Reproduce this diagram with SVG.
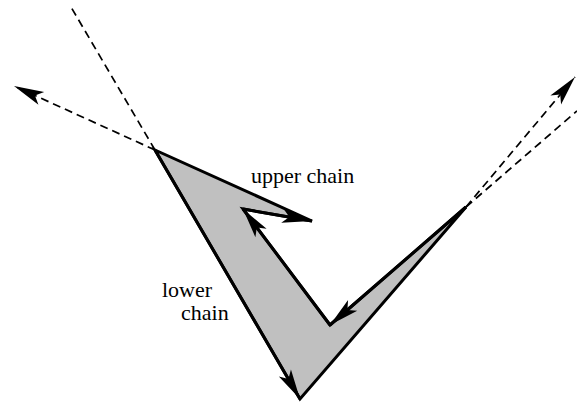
<svg xmlns="http://www.w3.org/2000/svg" width="577" height="402" viewBox="0 0 577 402">
<style>
.poly{fill:#c0c0c0;stroke:#000;stroke-width:3;stroke-linejoin:miter;stroke-miterlimit:5}
.edge{fill:none;stroke:#000;stroke-width:3}
.dash{fill:none;stroke:#000;stroke-width:1.7;stroke-dasharray:8 5}
.lbl{font-family:"Liberation Serif","Times New Roman",serif;font-size:22px;fill:#000}
</style>
<defs>
<marker id="ah" markerUnits="userSpaceOnUse" markerWidth="40" markerHeight="20" viewBox="-32 -10 40 20" refX="0" refY="0" orient="auto" overflow="visible">
<path d="M0,0 L-30,-7 L-23,0 L-30,7 Z" fill="#000"/>
</marker>
</defs>
<g id="polygon">
<polygon class="poly" points="155,150 312,221 243,209 330,325 466,207 300,399"/>
</g>
<g id="connectors">
<path class="dash" d="M155,150 L71,7"/>
<path class="dash" d="M155,150 L14,86" marker-end="url(#ah)"/>
<path class="dash" d="M466,207 L577,111"/>
<path class="dash" d="M466,207 L575,77" marker-end="url(#ah)"/>
<path class="edge" d="M243,209 L312,221" marker-end="url(#ah)"/>
<path class="edge" d="M330,325 L243,209" marker-end="url(#ah)"/>
<path class="edge" d="M466,207 L330,325" marker-end="url(#ah)"/>
<path class="edge" d="M155,150 L300,399" marker-end="url(#ah)"/>
</g>
<g id="labels">
<text class="lbl" x="251" y="183">upper chain</text>
<text class="lbl" x="162" y="297">lower</text>
<text class="lbl" x="181" y="320">chain</text>
</g>
</svg>
